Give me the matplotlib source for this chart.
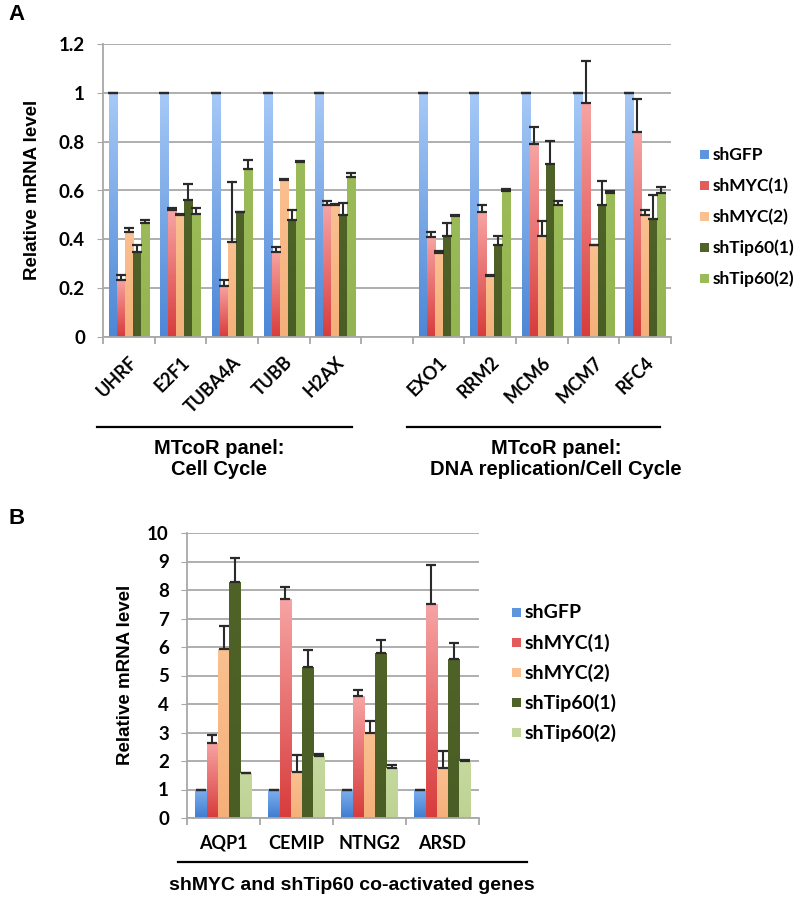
import numpy as np
import matplotlib
matplotlib.use("Agg")
import matplotlib.pyplot as plt
from matplotlib.colors import LinearSegmentedColormap
from matplotlib.patches import Rectangle

# -----------------------------
# DATA
# -----------------------------
series = ["shGFP", "shMYC(1)", "shMYC(2)", "shTip60(1)", "shTip60(2)"]

genes_a1 = ["UHRF", "E2F1", "TUBA4A", "TUBB", "H2AX"]
genes_a2 = ["EXO1", "RRM2", "MCM6", "MCM7", "RFC4"]

a_gfp = [1.0] * 10
a_myc1 = [0.235, 0.52, 0.21, 0.35, 0.54, 0.41, 0.51, 0.79, 0.96, 0.84]
a_myc2 = [0.43, 0.50, 0.39, 0.645, 0.54, 0.345, 0.25, 0.415, 0.375, 0.50]
a_tip1 = [0.35, 0.56, 0.51, 0.48, 0.50, 0.415, 0.375, 0.71, 0.54, 0.485]
a_tip2 = [0.465, 0.505, 0.69, 0.716, 0.657, 0.496, 0.596, 0.54, 0.59, 0.59]

a_gfp_err = [0.0] * 10
a_myc1_err = [0.02, 0.01, 0.022, 0.02, 0.017, 0.02, 0.03, 0.07, 0.17, 0.135]
a_myc2_err = [0.015, 0.005, 0.245, 0.003, 0.005, 0.007, 0.005, 0.06, 0.003, 0.02]
a_tip1_err = [0.028, 0.065, 0.002, 0.04, 0.05, 0.053, 0.04, 0.094, 0.10, 0.097]
a_tip2_err = [0.015, 0.025, 0.035, 0.004, 0.013, 0.004, 0.009, 0.015, 0.01, 0.024]

genes_b = ["AQP1", "CEMIP", "NTNG2", "ARSD"]
b_gfp = [1.0, 1.0, 1.0, 1.0]
b_myc1 = [2.62, 7.68, 4.27, 7.51]
b_myc2 = [5.93, 1.62, 2.98, 1.75]
b_tip1 = [8.27, 5.29, 5.79, 5.59]
b_tip2 = [1.58, 2.16, 1.77, 1.99]

b_gfp_err = [0.0, 0.0, 0.0, 0.0]
b_myc1_err = [0.30, 0.42, 0.21, 1.36]
b_myc2_err = [0.79, 0.60, 0.41, 0.61]
b_tip1_err = [0.85, 0.59, 0.44, 0.55]
b_tip2_err = [0.0, 0.10, 0.10, 0.03]

# -----------------------------
# STYLE
# -----------------------------
W, H = 800, 898
TICK_FONT = "Lato"
LABEL_FONT = "Liberation Sans"

# (top colour, bottom colour) for vertical gradients
grad_a = [("#a6c9f7", "#4d87d6"), ("#f7a3a3", "#d83c3c"), ("#fac090", "#f5b07a"),
          ("#4f6228", "#4a5d24"), ("#9bbb59", "#93b450")]
grad_b = [("#7fb0ee", "#3f7cd0"), ("#f7a3a3", "#d83c3c"), ("#fac090", "#f5b07a"),
          ("#4f6228", "#4a5d24"), ("#c5d99f", "#bdd292")]
legend_a = ["#5f95dc", "#e25c5c", "#fac090", "#4f6228", "#9bbb59"]
legend_b = ["#5f95dc", "#e25c5c", "#fac090", "#4f6228", "#c3d69b"]


def fx(x):
    return x / W


def fy(y):
    return 1 - y / H


def shade(ax, bars, top, bottom):
    cmap = LinearSegmentedColormap.from_list("g", [top, bottom])
    grad = np.linspace(0, 1, 64).reshape(-1, 1)
    for b in bars:
        x0, y0 = b.get_x(), b.get_y()
        im = ax.imshow(grad, extent=[x0, x0 + b.get_width(), y0, y0 + b.get_height()],
                       cmap=cmap, aspect="auto", origin="upper", zorder=2,
                       interpolation="bilinear")
        im.set_clip_path(b)
        b.set_facecolor("none")


def grouped(ax, xs, vals, errs, grads, w):
    for i, (v, e, g) in enumerate(zip(vals, errs, grads)):
        pos = xs + (i - 2) * w
        bars = ax.bar(pos, v, width=w, color=g[0], linewidth=0, zorder=2)
        shade(ax, bars, g[0], g[1])
        ax.errorbar(pos, v, yerr=[np.zeros(len(v)), e], fmt="none", ecolor="#2a2a2a",
                    elinewidth=1.5, capsize=3.4, capthick=1.6, zorder=3)


def style_axes(ax, ymax, ystep, fmt):
    ax.set_ylim(0, ymax)
    ticks = np.arange(0, ymax + ystep / 2, ystep)
    ax.set_yticks(ticks)
    ax.set_yticklabels([fmt(t) for t in ticks], fontfamily=TICK_FONT,
                       fontweight="bold", fontsize=13.5)
    ax.yaxis.grid(True, color="#a8a8a8", linewidth=1.3, zorder=0)
    ax.set_axisbelow(True)
    for s in ["top", "right"]:
        ax.spines[s].set_visible(False)
    ax.spines["left"].set_color("#a8a8a8")
    ax.spines["bottom"].set_color("#a8a8a8")
    ax.spines["left"].set_linewidth(1.3)
    ax.spines["bottom"].set_linewidth(1.3)
    ax.tick_params(axis="y", length=4, color="#a8a8a8", pad=9)
    ax.tick_params(axis="x", which="major", length=0)
    ax.tick_params(axis="x", which="minor", length=5, color="#a8a8a8", width=1.3)


def fmt_a(t):
    return "0" if t == 0 else ("1" if abs(t - 1) < 1e-9 else f"{t:.1f}")


fig = plt.figure(figsize=(W / 100, H / 100), dpi=100)

# -----------------------------
# PANEL A
# -----------------------------
ax_a = fig.add_axes([fx(103), fy(337), fx(671) - fx(103), fy(44) - fy(337)])
xa = np.array([0, 1, 2, 3, 4, 6, 7, 8, 9, 10], dtype=float)
w = 0.155
grouped(ax_a, xa,
        [a_gfp, a_myc1, a_myc2, a_tip1, a_tip2],
        [a_gfp_err, a_myc1_err, a_myc2_err, a_tip1_err, a_tip2_err],
        grad_a, w)
style_axes(ax_a, 1.2, 0.2, fmt_a)
ax_a.set_xlim(-0.5, 10.5)
ax_a.set_xticks(xa)
ax_a.set_xticklabels(genes_a1 + genes_a2, rotation=45, ha="right", rotation_mode="anchor",
                     fontfamily=TICK_FONT, fontweight="bold", fontsize=13)
ax_a.tick_params(axis="x", which="major", pad=12)
ax_a.set_xticks(np.arange(-0.5, 11, 1.0), minor=True)

fig.text(fx(33), fy(190), "Relative mRNA level", rotation=90, ha="center", va="center",
         fontfamily=LABEL_FONT, fontweight="bold", fontsize=13.5)
fig.text(fx(8), fy(15), "A", ha="left", va="center", fontfamily=LABEL_FONT,
         fontweight="bold", fontsize=16)

# group brackets under panel A
fig.add_artist(plt.Line2D([fx(97), fx(352)], [fy(427), fy(427)], color="black", lw=1.6))
fig.add_artist(plt.Line2D([fx(407), fx(660)], [fy(427), fy(427)], color="black", lw=1.6))
fig.text(fx(219), fy(459), "MTcoR panel:\nCell Cycle", ha="center", va="center",
         fontfamily=LABEL_FONT, fontweight="bold", fontsize=14.5, linespacing=1.15)
fig.text(fx(556), fy(459), "MTcoR panel:\nDNA replication/Cell Cycle", ha="center",
         va="center", fontfamily=LABEL_FONT, fontweight="bold", fontsize=14.5,
         linespacing=1.15)

# legend A
for i, (name, c) in enumerate(zip(series, legend_a)):
    y = 155 + i * 31
    fig.add_artist(Rectangle((fx(700), fy(y + 4)), fx(9), fy(0) - fy(9),
                             facecolor=c, edgecolor="none"))
    fig.text(fx(713), fy(y), name, ha="left", va="center", fontfamily=TICK_FONT,
             fontweight="bold", fontsize=12.5)

# -----------------------------
# PANEL B
# -----------------------------
ax_b = fig.add_axes([fx(187), fy(818), fx(479) - fx(187), fy(533) - fy(818)])
xb = np.arange(len(genes_b), dtype=float)
grouped(ax_b, xb,
        [b_gfp, b_myc1, b_myc2, b_tip1, b_tip2],
        [b_gfp_err, b_myc1_err, b_myc2_err, b_tip1_err, b_tip2_err],
        grad_b, w)
style_axes(ax_b, 10, 1, lambda t: f"{int(t)}")
ax_b.set_xlim(-0.5, 3.5)
ax_b.set_xticks(xb)
ax_b.set_xticklabels(genes_b, fontfamily=TICK_FONT, fontweight="bold", fontsize=13)
ax_b.tick_params(axis="x", which="major", pad=12)
ax_b.set_xticks(np.arange(-0.5, 4, 1.0), minor=True)

fig.text(fx(125), fy(675), "Relative mRNA level", rotation=90, ha="center", va="center",
         fontfamily=LABEL_FONT, fontweight="bold", fontsize=13.5)
fig.text(fx(8), fy(518), "B", ha="left", va="center", fontfamily=LABEL_FONT,
         fontweight="bold", fontsize=16)

fig.add_artist(plt.Line2D([fx(178), fx(527)], [fy(862), fy(862)], color="black", lw=1.6))
fig.text(fx(352), fy(886), "shMYC and shTip60 co-activated genes", ha="center",
         va="center", fontfamily=LABEL_FONT, fontweight="bold", fontsize=14)

# legend B
for i, (name, c) in enumerate(zip(series, legend_b)):
    y = 613 + i * 30
    fig.add_artist(Rectangle((fx(512), fy(y + 4)), fx(9), fy(0) - fy(9),
                             facecolor=c, edgecolor="none"))
    fig.text(fx(525), fy(y), name, ha="left", va="center", fontfamily=TICK_FONT,
             fontweight="bold", fontsize=14)

fig.savefig("out.png", dpi=100)
